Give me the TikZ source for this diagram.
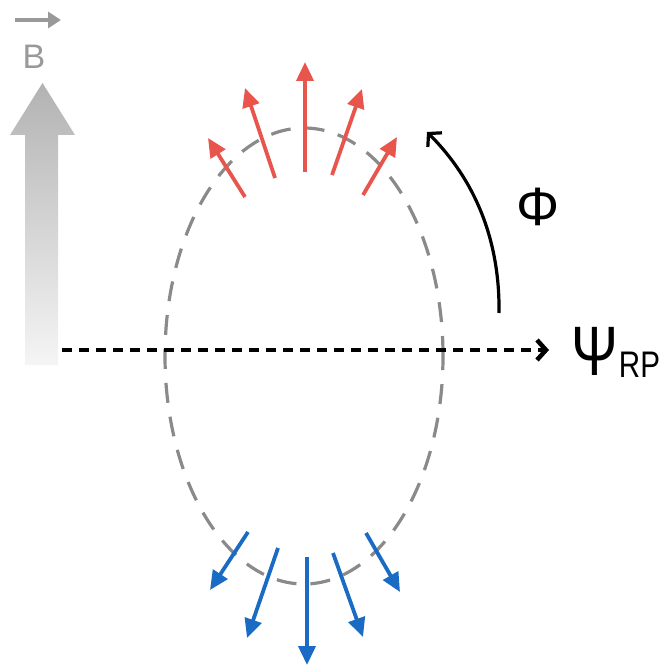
\documentclass[tikz,border=0pt]{standalone}
\usepackage{fontspec}
\setmainfont{Liberation Sans}
\usetikzlibrary{arrows.meta}
\definecolor{redarr}{HTML}{E8554C}
\definecolor{bluearr}{HTML}{1A6BC4}
\definecolor{ellgray}{HTML}{8A8A8A}
\tikzset{
  redvec/.style={draw=redarr, line width=3.8pt, -{Triangle[length=19pt,width=17pt]}},
  bluevec/.style={draw=bluearr, line width=3.8pt, -{Triangle[length=19pt,width=17pt]}},
  ring/.style={draw=ellgray, line width=3.2pt, dash pattern=on 20pt off 14pt},
  axisline/.style={draw=black, line width=4.5pt, dash pattern=on 10pt off 7pt, -{Straight Barb[length=9pt,width=20pt,line width=4.5pt]}},
  anglearc/.style={draw=black, line width=3.2pt, -{Straight Barb[length=9pt,width=20pt,line width=3.2pt]}},
}
\begin{document}
\begin{tikzpicture}[x=1pt,y=-1pt]
\useasboundingbox (0,0) rectangle (667,668);
% B field arrow (gradient)
\shade[top color=black!30, bottom color=black!4]
  (25,365) -- (25,135) -- (10,135) -- (42.5,83) -- (75,135) -- (58,135) -- (58,365) -- cycle;
\node[text=black!40, font=\fontsize{34}{36}\selectfont, inner sep=0pt] (B) at (34,57) {B};
\coordinate (bvs) at (15,20);
\coordinate (bve) at (61,20);
\draw[black!40, line width=3.5pt, -{Triangle[length=13pt,width=16pt]}] (bvs) -- (bve);
% ellipse
\coordinate (ellc) at (304,356);
\draw[ring] (ellc) ellipse [x radius=139pt, y radius=228pt];
% reaction plane axis
\coordinate (ax0) at (62,350);
\coordinate (ax1) at (549,350);
\draw[axisline] (ax0) -- (ax1);
\node[anchor=west, inner sep=0pt, font=\fontsize{70}{74}\selectfont] (psi) at (571,352) {\scalebox{0.8}[1]{Ψ}\kern1pt\raisebox{-0.03em}{\fontsize{37}{40}\selectfont\scalebox{0.8}[1]{RP}}};
% angle arc
\coordinate (arc0) at (499,313);
\coordinate (arc1) at (427,132);
\draw[anglearc] (arc0) .. controls (500,240) and (475,180) .. (arc1);
\node[font=\fontsize{54}{58}\selectfont, inner sep=0pt] (phi) at (538,207) {Φ};
% red arrows
\draw[redvec] (245,197) -- (208,138);
\draw[redvec] (275,178) -- (245,88);
\draw[redvec] (305,172) -- (305,62);
\draw[redvec] (332,175) -- (362,89);
\draw[redvec] (363,195) -- (397,137);
% blue arrows
\draw[bluevec] (248,532) -- (210,590);
\draw[bluevec] (278,548) -- (247,638);
\draw[bluevec] (307,557) -- (307,665);
\draw[bluevec] (333,553) -- (363,637);
\draw[bluevec] (366,533) -- (400,592);
\end{tikzpicture}
\end{document}
